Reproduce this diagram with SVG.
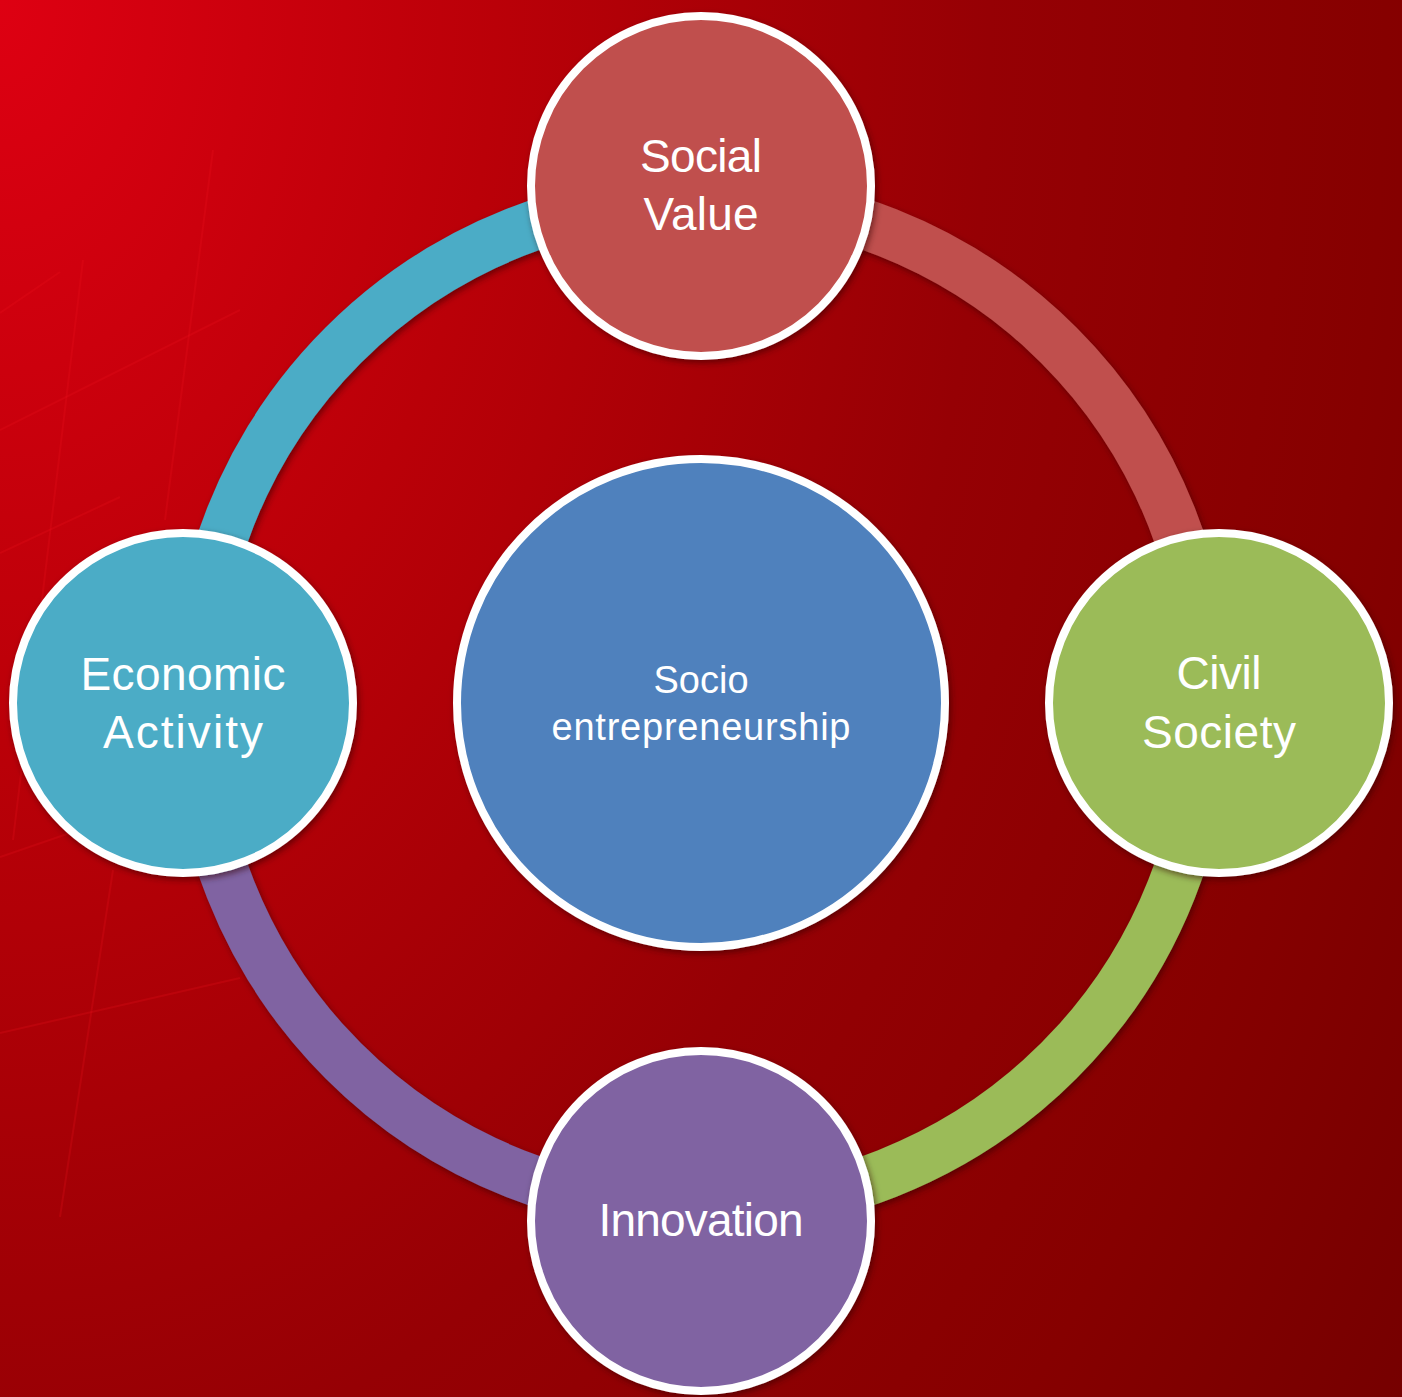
<svg xmlns="http://www.w3.org/2000/svg" width="1402" height="1397" viewBox="0 0 1402 1397">
  <defs>
    <radialGradient id="bg" gradientUnits="userSpaceOnUse" cx="0" cy="0" r="1980" gradientTransform="scale(1,1.5)">
      <stop offset="0" stop-color="#DE0012"/>
      <stop offset="0.25" stop-color="#BA0008"/>
      <stop offset="0.5" stop-color="#960004"/>
      <stop offset="0.7" stop-color="#860000"/>
      <stop offset="0.85" stop-color="#760000"/>
      <stop offset="1" stop-color="#700000"/>
    </radialGradient>
    <filter id="shadow" x="-10%" y="-10%" width="125%" height="125%">
      <feDropShadow dx="2" dy="3" stdDeviation="3" flood-color="#300000" flood-opacity="0.55"/>
    </filter>
  </defs>
  <style>
    .ring { fill: none; stroke-width: 50; filter: url(#shadow); }
    .node { stroke: #FFFFFF; stroke-width: 8; filter: url(#shadow); }
    .label { font-family: "Liberation Sans", Arial, sans-serif; fill: #FFFFFF; text-anchor: middle; }
    .big { font-size: 46px; }
    .small { font-size: 38px; }
    .streak { stroke: #F01020; stroke-opacity: 0.22; stroke-width: 2; fill: none; }
  </style>

  <rect x="0" y="0" width="1402" height="1397" fill="url(#bg)"/>

  <g id="background-streaks">
    <path class="streak" d="M0,313 L60,272"/>
    <path class="streak" d="M0,430 L240,310"/>
    <path class="streak" d="M83,260 L13,840"/>
    <path class="streak" d="M213,150 L165,520"/>
    <path class="streak" d="M0,553 L120,497"/>
    <path class="streak" d="M0,857 L70,833"/>
    <path class="streak" d="M113,870 L60,1217"/>
    <path class="streak" d="M0,1033 L240,978"/>
  </g>

  <g id="connectors">
    <path class="ring" stroke="#4BACC6" d="M195,703 A506,506 0 0 1 701,197"/>
    <path class="ring" stroke="#C0504D" d="M701,197 A506,506 0 0 1 1207,703"/>
    <path class="ring" stroke="#9BBB59" d="M1207,703 A506,506 0 0 1 701,1209"/>
    <path class="ring" stroke="#8064A2" d="M701,1209 A506,506 0 0 1 195,703"/>
  </g>

  <g id="node-center">
    <circle class="node" cx="701" cy="703" r="244" fill="#4F81BD"/>
    <text class="label small" x="701" y="693">Socio</text>
    <text class="label small" x="701" y="740" textLength="299">entrepreneurship</text>
  </g>

  <g id="node-social-value">
    <circle class="node" cx="701" cy="186" r="170" fill="#C0504D"/>
    <text class="label big" x="701" y="172" textLength="122">Social</text>
    <text class="label big" x="701" y="230" textLength="115">Value</text>
  </g>

  <g id="node-civil-society">
    <circle class="node" cx="1219" cy="703" r="170" fill="#9BBB59"/>
    <text class="label big" x="1219" y="689" textLength="85">Civil</text>
    <text class="label big" x="1219" y="748" textLength="154">Society</text>
  </g>

  <g id="node-innovation">
    <circle class="node" cx="701" cy="1221" r="170" fill="#8064A2"/>
    <text class="label big" x="701" y="1236" textLength="205">Innovation</text>
  </g>

  <g id="node-economic-activity">
    <circle class="node" cx="183" cy="703" r="170" fill="#4BACC6"/>
    <text class="label big" x="183" y="690" textLength="205">Economic</text>
    <text class="label big" x="183" y="748" textLength="160">Activity</text>
  </g>
</svg>
